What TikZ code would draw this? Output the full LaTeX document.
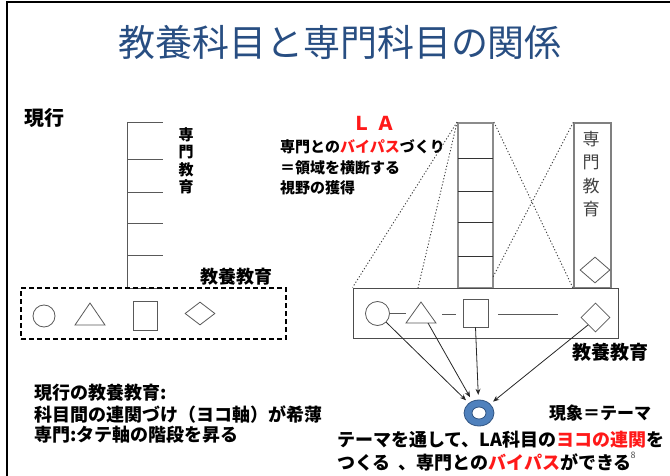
\documentclass[tikz,border=0pt]{standalone}
\usepackage{fontspec}
\setmainfont{Noto Sans CJK JP}
\usetikzlibrary{arrows.meta,calc,shapes.geometric}
\definecolor{titleblue}{RGB}{40,78,130}
\definecolor{ringblue}{RGB}{79,129,189}
\definecolor{ringedge}{RGB}{50,85,130}
\definecolor{lared}{RGB}{255,25,25}
\newcommand\fsz[2]{\fontsize{#1}{#2}\selectfont}
\begin{document}
\begin{tikzpicture}[x=1pt,y=-1pt,
  ladder/.style={draw=black!65, line width=0.9pt},
  rung/.style={draw=black!80, line width=1pt},
  shp/.style={draw=black!65, line width=0.8pt},
  dotl/.style={draw=black!75, line width=0.9pt, dash pattern=on 1.2pt off 2pt},
  arr/.style={draw=black!85, line width=0.8pt, -{Stealth[length=6pt,width=5pt]}},
  lbl/.style={inner sep=0pt, anchor=west},
  box/.style={inner sep=0pt}]
\useasboundingbox (0,0) rectangle (670,476);
% slide frame
\draw[line width=2.2pt] (7,476) -- (7,2) -- (670,2);
% title
\node[font=\fsz{37}{40}, text=titleblue] (title) at (340,42) {教養科目と専門科目の関係};
% ---------- left: current ----------
\node[lbl, font=\fsz{20}{24}\bfseries] (genko) at (24,118) {現行};
\draw[ladder] (127,122) -- (127,288);
\foreach \y in {122,159,192,223,255,288} \draw[ladder] (127,\y) -- (163,\y);
\node[box, font=\fsz{15}{17.5}\bfseries, align=center] (lspec) at (186,161) {専\\門\\教\\育};
\node[box, font=\fsz{18}{20}\bfseries] (lgen) at (236,277) {教養教育};
\node[box, draw, line width=1.2pt, dash pattern=on 5pt off 3pt, minimum width=265pt, minimum height=51pt] (lbox) at (153.5,313.5) {};
\node[shp, circle, minimum size=22pt, inner sep=0pt] (lc) at (44,316) {};
\draw[shp] (75,325) -- (90,303) -- (105,325) -- cycle;
\node[shp, box, minimum width=24pt, minimum height=29pt] (lr) at (145,315.5) {};
\node[shp, box, diamond, minimum width=30pt, minimum height=23pt] (ld) at (200,313.5) {};
\node[lbl, font=\fsz{18}{21}\bfseries] (t1) at (34,393) {現行の教養教育:};
\node[lbl, font=\fsz{18}{21}\bfseries] (t2) at (34,415) {科目間の連関づけ（ヨコ軸）が希薄};
\node[lbl, font=\fsz{18}{21}\bfseries] (t3) at (34,435) {専門:タテ軸の階段を昇る};
% ---------- right: LA ----------
\node[box, font=\fsz{19}{20}\bfseries, text=lared] (la) at (374,123) {Ｌ\hspace{6pt}Ａ};
\node[lbl, font=\fsz{15}{20}\bfseries] (r1) at (280,147) {専門との\textcolor{lared}{バイパス}づくり};
\node[lbl, font=\fsz{15}{20}\bfseries] (r2) at (280,168) {＝領域を横断する};
\node[lbl, font=\fsz{15}{20}\bfseries] (r3) at (280,188) {視野の獲得};
% ladder (LA)
\node[box, draw=black!45, line width=1.8pt, minimum width=35pt, minimum height=165pt] (rl) at (475.5,205.5) {};
\foreach \y in {159,192,223,256} \draw[rung] (458,\y) -- (493,\y);
% specialised column
\node[box, draw=black!50, line width=1.4pt, minimum width=37pt, minimum height=165pt] (tr) at (592.5,205.5) {};
\node[box, font=\fsz{17}{23.3}, text=black!75, align=center] (rspec) at (591,174) {専\\門\\教\\育};
\node[shp, box, diamond, minimum width=30pt, minimum height=26pt] (td) at (595,270) {};
% general education bar
\node[box, draw=black!70, line width=1pt, minimum width=265pt, minimum height=50pt] (lrb) at (485.5,313) {};
\node[shp, circle, minimum size=24pt, inner sep=0pt] (rc) at (377.5,313.5) {};
\coordinate (rtl) at (406,323); \coordinate (rtt) at (421,302); \coordinate (rtr) at (436,323);
\draw[shp] (rtl) -- (rtt) -- (rtr) -- cycle;
\coordinate (rtri) at (428,323);
\draw[shp] (rc.east) -- (rtl |- rc.east);
\draw[shp] (442,314) -- (456,314);
\node[shp, box, minimum width=25pt, minimum height=28pt] (rr) at (475.5,313) {};
\draw[shp] (498,314) -- (558,314);
\node[shp, box, diamond, minimum width=29pt, minimum height=29pt] (rd) at (595.5,317.5) {};
% dotted projection lines
\coordinate (lrq) at (418,288);
\coordinate (rlx) at (493,277);
\draw[dotl] (rl.north west) -- (lrb.north west);
\draw[dotl] (rl.north west) -- (lrq);
\draw[dotl] (rl.north east) -- (tr.south west);
\draw[dotl] (tr.north west) -- (rlx);
% theme ring
\node[circle, minimum size=36pt, inner sep=0pt] (ring) at (479,413) {};
\path[fill=ringblue, draw=ringedge, line width=0.8pt, even odd rule]
  (ring.center) ellipse [x radius=15pt, y radius=13pt]
  (ring.center) ellipse [x radius=7pt, y radius=6pt];
\draw[arr] (rc.south east) -- (ring);
\draw[arr] (rtri) -- (ring);
\draw[arr] (rr.south) -- (ring);
\draw[arr] (rd.south west) -- (ring);
% right labels
\node[box, font=\fsz{19}{20}\bfseries] (rgen) at (610,352) {教養教育};
\node[box, font=\fsz{17}{20}\bfseries] (theme) at (600,413) {現象＝テーマ};
\node[lbl, font=\fsz{18}{21}\bfseries] (b1) at (337,440) {テーマを通して、LA科目の\textcolor{lared}{ヨコの連関}を};
\node[lbl, font=\fsz{18}{21}\bfseries] (b2) at (337,462) {つくる\hspace{8pt}、専門との\textcolor{lared}{バイパス}ができる};
\node[box, font=\fsz{9}{10}, text=black!70] (pg) at (633,455) {8};
\end{tikzpicture}
\end{document}
